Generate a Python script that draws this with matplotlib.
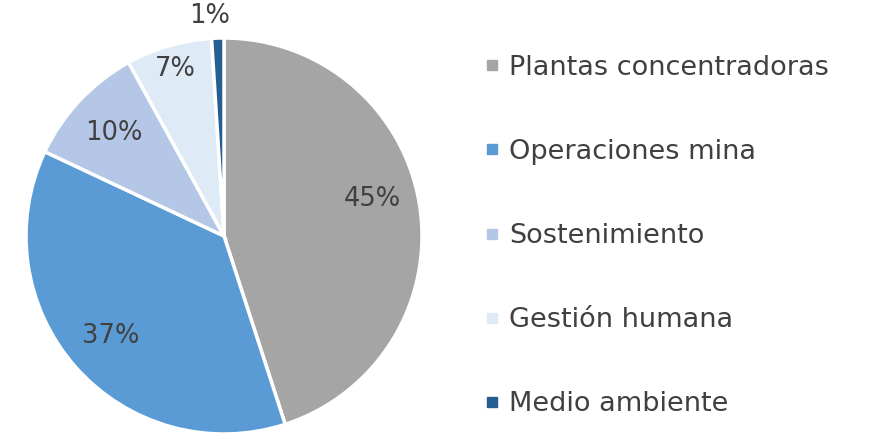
import numpy as np
import matplotlib
matplotlib.use("Agg")
import matplotlib.pyplot as plt
from matplotlib.lines import Line2D

categories = ["Plantas concentradoras", "Operaciones mina", "Sostenimiento",
              "Gestión humana", "Medio ambiente"]
values = [45, 37, 10, 7, 1]
colors = ["#A5A5A5", "#5B9BD5", "#B4C7E7", "#DEEBF7", "#255E91"]

W, H = 872, 434
fig = plt.figure(figsize=(W / 100, H / 100), dpi=100)
plt.rcParams['font.family'] = ['DejaVu Sans']

cx, cy, r = 224, 236, 198
ax = fig.add_axes([(cx - r) / W, (H - cy - r) / H, 2 * r / W, 2 * r / H])
wedges, texts, autotexts = ax.pie(
    values, colors=colors, startangle=90, counterclock=False,
    autopct=lambda p: f"{p:.0f}%", pctdistance=0.76,
    wedgeprops=dict(edgecolor="white", linewidth=2.5),
    textprops=dict(color="#404040", fontsize=18.5))
ax.set_xlim(-1, 1)
ax.set_ylim(-1, 1)
ax.set_aspect("equal")

def mid(w):
    return np.deg2rad((w.theta1 + w.theta2) / 2)

# label positions tweaked along the slice bisectors
a = mid(wedges[0])
autotexts[0].set_position((0.76 * np.cos(a), 0.76 * np.sin(a) + 0.07))
a = mid(wedges[3])
autotexts[3].set_position((0.88 * np.cos(a), 0.88 * np.sin(a)))
a = mid(wedges[4])
autotexts[4].set_position((1.11 * np.cos(a) - 0.04, 1.11 * np.sin(a)))
for t in autotexts:
    t.set_clip_on(False)

handles = [Line2D([], [], marker="s", linestyle="none", markersize=7.5,
                  markerfacecolor=c, markeredgecolor=c) for c in colors]
fig.legend(handles, categories, loc="center left",
           bbox_to_anchor=(474 / W, 1 - 236 / H), frameon=False,
           fontsize=19.5, labelcolor="#404040", handlelength=0.55,
           handletextpad=0.35, labelspacing=2.15, borderaxespad=0)

fig.savefig("out.png", dpi=100)
